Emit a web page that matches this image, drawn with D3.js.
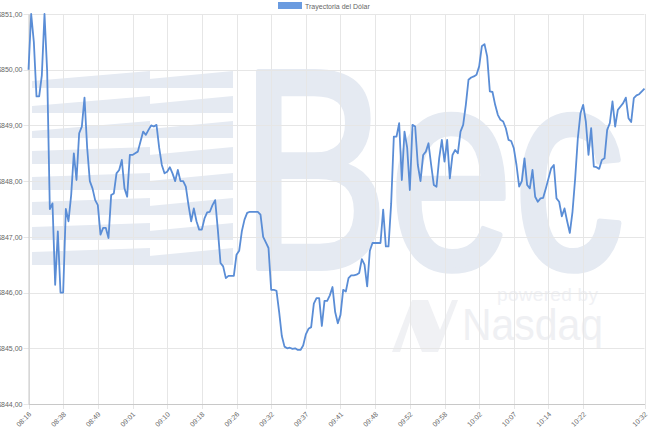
<!DOCTYPE html>
<html>
<head>
<meta charset="utf-8">
<script src="https://cdn.jsdelivr.net/npm/d3@7"></script>
<style>
body { margin: 0; background: #fff; font-family: "Liberation Sans", Arial, sans-serif; }
</style>
</head>
<body>
<svg id="chart" width="650" height="427"></svg>
<script>
var seriesName = "Trayectoria del Dólar";
var yTicks = [844, 845, 846, 847, 848, 849, 850, 851];
var xTickLabels = ["08:16", "08:38", "08:49", "09:01", "09:10", "09:18", "09:26", "09:32", "09:37",
	"09:41", "09:48", "09:52", "09:58", "10:02", "10:07", "10:14", "10:22", "10:32"];
var xTickIndex = [0, 13, 26, 39, 52, 65, 78, 91, 104, 117, 130, 143, 156, 169, 182, 195, 208, 231];

// one value per quote
var values = [
	850.0, 851.0, 850.5, 849.52, 849.52, 849.9, 851.0, 849.97, 847.5, 847.6,
	846.14, 847.1, 846.0, 846.0, 847.5, 847.28, 847.75, 848.5, 848.02, 848.86,
	848.98, 849.5, 848.6, 848.0, 847.87, 847.66, 847.57, 847.04, 847.16, 847.16,
	846.98, 847.75, 847.78, 848.14, 848.2, 848.38, 847.87, 847.72, 848.47, 848.47,
	848.5, 848.53, 848.71, 848.89, 848.83, 848.92, 849.0, 848.98, 849.01, 848.6,
	848.29, 848.14, 848.17, 848.25, 848.14, 848.0, 848.2, 848.0, 848.0, 847.9,
	847.57, 847.28, 847.51, 847.28, 847.13, 847.13, 847.33, 847.44, 847.45, 847.57,
	847.66, 847.13, 846.53, 846.47, 846.26, 846.3, 846.3, 846.3, 846.68, 846.75,
	847.1, 847.31, 847.43, 847.45, 847.45, 847.45, 847.45, 847.4, 847.0, 846.9,
	846.8, 846.05, 846.05, 846.03, 845.65, 845.22, 845.03, 845.0, 845.01, 844.99,
	845.0, 844.97, 844.97, 845.05, 845.25, 845.35, 845.38, 845.8, 845.9, 845.9,
	845.4, 845.85, 845.85, 845.95, 846.1, 845.65, 845.45, 845.6, 846.05, 846.02,
	846.26, 846.31, 846.31, 846.32, 846.35, 846.6, 846.5, 846.11, 846.75, 846.89,
	846.89, 846.89, 846.89, 847.49, 846.83, 846.83, 847.6, 848.8, 848.8, 849.04,
	848.02, 848.89, 848.6, 847.84, 849.01, 848.98, 848.29, 848.0, 848.47, 848.53,
	848.68, 848.29, 847.93, 847.9, 848.41,
	848.74, 848.35, 848.74, 848.05, 848.47, 848.56, 848.5, 848.89, 849.01, 849.37,
	849.82, 849.86, 849.88, 849.91, 850.06, 850.42, 850.46, 850.24, 849.61, 849.6,
	849.37, 849.19, 849.1, 849.07, 848.95, 848.74, 848.72, 848.59, 848.29, 847.9,
	848.0, 848.41, 847.93, 847.87, 848.2, 847.72, 847.63, 847.69, 847.7, 847.87,
	848.05, 848.23, 848.29, 847.69, 847.63, 847.37, 847.51, 847.28, 847.07, 847.45,
	848.05, 848.77, 849.22, 849.37, 849.07, 848.47, 848.95, 848.26, 848.25, 848.22,
	848.38, 848.41, 848.92, 849.04, 849.43, 848.98, 849.28, 849.34, 849.4, 849.5,
	849.13, 849.06, 849.49, 849.54, 849.56, 849.61, 849.66
];

var svg = d3.select("#chart"),
	margin = {top: 14, left: 28.5, bottom: 23, right: 5.5},
	width = +svg.attr("width"),
	height = +svg.attr("height");

var x = d3.scaleLinear()
	.domain([0, values.length - 1])
	.range([margin.left, width - margin.right]);

var y = d3.scaleLinear()
	.domain([d3.min(yTicks), d3.max(yTicks)])
	.range([height - margin.bottom, margin.top]);

var wm = "#e5eaf2";

// watermark: striped block on the left
var bands = [71, 96, 121, 147, 173, 198, 223, 248];
var wmark = svg.append("g");
bands.forEach(function(b, i) {
	var h = 17;
	wmark.append("polygon")
		.attr("points", [[32, b + h], [32, b + 4 + (i < 3 ? 6 : 0)], [150, b], [150, b + h]].join(" "))
		.attr("fill", wm);
	wmark.append("polygon")
		.attr("points", [[128, b + h], [128, b + 10], [233, b], [233, b + h]].join(" "))
		.attr("fill", wm);
});
wmark.append("text")
	.attr("x", 240).attr("y", 268)
	.attr("font-size", 285)
	.attr("textLength", 385)
	.attr("lengthAdjust", "spacingAndGlyphs")
	.attr("fill", wm)
	.attr("stroke", wm)
	.attr("stroke-width", 6)
	.attr("stroke-linejoin", "round")
	.text("Bec");
wmark.append("polygon")
	.attr("points", "392,352 412,300 428,300 440,330 452,300 458,300 438,352 422,352 410,322 400,352")
	.attr("fill", "#f0f1f4");
wmark.append("text")
	.attr("x", 497).attr("y", 301)
	.attr("font-size", 19)
	.attr("textLength", 101)
	.attr("fill", "#f0f1f4")
	.text("powered by");
wmark.append("text")
	.attr("x", 462).attr("y", 340)
	.attr("font-size", 45)
	.attr("textLength", 141)
	.attr("lengthAdjust", "spacingAndGlyphs")
	.attr("fill", "#eff0f3")
	.text("Nasdaq");

// grid
var grid = svg.append("g").attr("stroke", "#e6e6e6").attr("stroke-width", 1);
grid.selectAll("line.h").data(yTicks).enter().append("line")
	.attr("x1", margin.left - 5).attr("x2", width - margin.right)
	.attr("y1", d => Math.round(y(d)) + 0.5).attr("y2", d => Math.round(y(d)) + 0.5);
grid.selectAll("line.v").data(xTickIndex).enter().append("line")
	.attr("y1", margin.top).attr("y2", height - margin.bottom + 5)
	.attr("x1", d => Math.round(x(d)) + 0.5).attr("x2", d => Math.round(x(d)) + 0.5);

// axes
var yAxis = svg.append("g")
	.attr("transform", `translate(${margin.left},0)`)
	.call(d3.axisLeft(y).tickValues(yTicks).tickSize(0).tickPadding(6)
		.tickFormat(d => "$" + d.toFixed(2).replace(".", ",")));
yAxis.select(".domain").attr("stroke", "#c8c8c8");
yAxis.selectAll("text").attr("fill", "#666").attr("font-size", 7)
	.attr("font-family", "Liberation Sans, Arial, sans-serif");

var xAxis = svg.append("g")
	.attr("transform", `translate(0,${height - margin.bottom})`)
	.call(d3.axisBottom(x).tickValues(xTickIndex).tickSize(0)
		.tickFormat((d, i) => xTickLabels[i]));
xAxis.select(".domain").attr("stroke", "#c8c8c8");
xAxis.selectAll("text")
	.attr("fill", "#666").attr("font-size", 7)
	.attr("font-family", "Liberation Sans, Arial, sans-serif")
	.attr("text-anchor", "end")
	.attr("y", 0).attr("dy", "0.35em")
	.attr("transform", "translate(1,9) rotate(-45)");

// line
var line = d3.line()
	.x((d, i) => x(i))
	.y(d => y(d));

svg.append("path")
	.datum(values)
	.attr("fill", "none")
	.attr("stroke", "#5a8dd6")
	.attr("stroke-width", 1.8)
	.attr("stroke-linejoin", "round")
	.attr("d", line);

// legend
var legend = svg.append("g");
legend.append("rect")
	.attr("x", 278).attr("y", 2).attr("width", 24).attr("height", 7)
	.attr("fill", "#6a9be0");
legend.append("text")
	.attr("x", 305).attr("y", 8.5)
	.attr("font-size", 7).attr("fill", "#666")
	.text(seriesName);
</script>
</body>
</html>
